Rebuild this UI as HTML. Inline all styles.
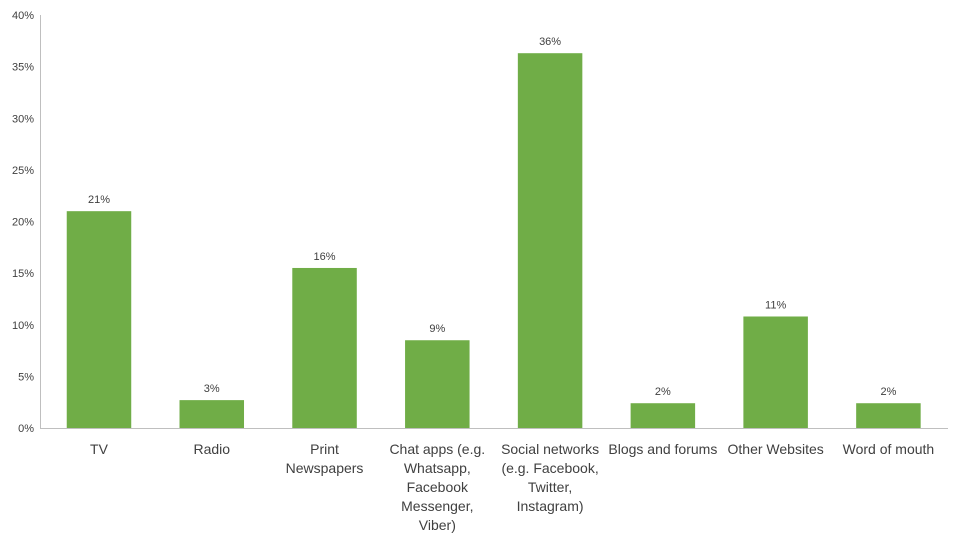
<!DOCTYPE html>
<html><head><meta charset="utf-8"><style>
body{margin:0;background:#fff;}
svg{display:block;font-family:"Liberation Sans",sans-serif;}
</style></head><body>
<svg id="chart" width="960" height="540"></svg>
<script>
const categories=[["TV"],["Radio"],["Print","Newspapers"],["Chat apps (e.g.","Whatsapp,","Facebook","Messenger,","Viber)"],["Social networks","(e.g. Facebook,","Twitter,","Instagram)"],["Blogs and forums"],["Other Websites"],["Word of mouth"]];
const values=[21.0,2.7,15.5,8.5,36.3,2.4,10.8,2.4];
const valueLabels=["21%","3%","16%","9%","36%","2%","11%","2%"];
const yTicks=[0,5,10,15,20,25,30,35,40];
const NS="http://www.w3.org/2000/svg";
const svg=document.getElementById('chart');
const x0=42.6,x1=944.8,y0=428,yTop=15,yMax=40;
const y=v=>y0-(v/yMax)*(y0-yTop);
const band=(x1-x0)/categories.length;
const xc=i=>x0+band*(i+0.5);
function mk(t,a){const e=document.createElementNS(NS,t);for(const k in a)e.setAttribute(k,a[k]);svg.appendChild(e);return e;}
yTicks.forEach(t=>{
  const l=mk('text',{x:34,y:y(t)+4,'text-anchor':'end','font-size':11,fill:'#404040'});
  
  
  l.textContent=t+'%';
});
const ya=mk('line',{x1:40.5,y1:yTop,x2:40.5,y2:y0,stroke:'#bfbfbf'});


values.forEach((v,i)=>{
  const w=64.5;
  const r=mk('rect',{x:xc(i)-w/2,y:y(v),width:w,height:y0-y(v),fill:'#70ad47'});
  
  
  const t=mk('text',{x:xc(i),y:y(v)-8,'text-anchor':'middle','font-size':11,fill:'#404040'});
  
  
  t.textContent=valueLabels[i];
  categories[i].forEach((ln,j)=>{
    const c=mk('text',{x:xc(i),y:454+j*19,'text-anchor':'middle','font-size':14,fill:'#404040'});
    
    
    c.textContent=ln;
  });
});
const xa=mk('line',{x1:40,y1:y0+0.5,x2:948,y2:y0+0.5,stroke:'#bfbfbf'});


</script>
</body></html>
